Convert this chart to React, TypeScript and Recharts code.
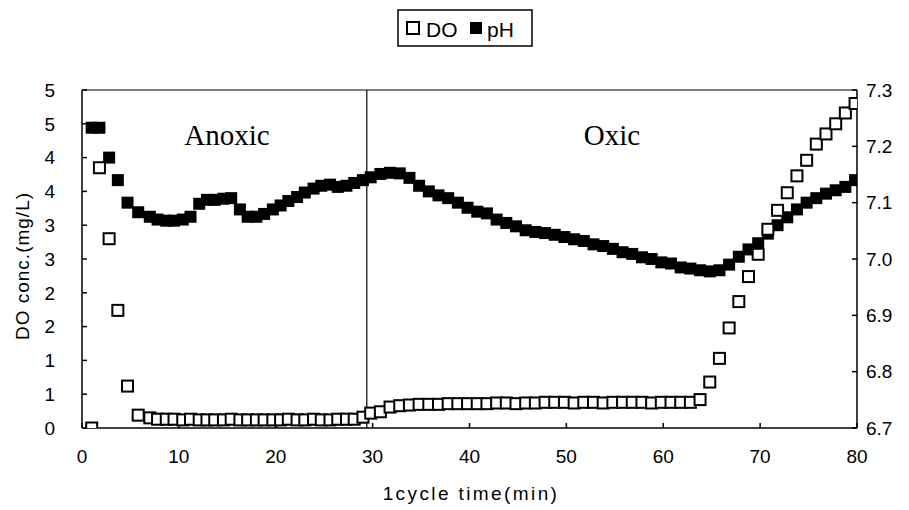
import React from 'react';
import { ComposedChart, Line, XAxis, YAxis, ReferenceLine } from 'recharts';

const timeMin = [
  1.0, 1.8, 2.8, 3.7, 4.7, 5.8, 7.0, 7.8, 8.7, 9.5, 10.4, 11.2, 12.1, 12.9, 13.7, 14.6, 15.4, 16.3, 17.1, 18.0,
  18.8, 19.7, 20.5, 21.3, 22.2, 23.0, 23.9, 24.7, 25.6, 26.4, 27.3, 28.1, 29.0, 29.8,
  30.8, 31.8, 32.8, 33.8, 34.8, 35.8, 36.8, 37.8, 38.8, 39.8, 40.8, 41.8, 42.8, 43.8, 44.8, 45.8, 46.8, 47.8,
  48.8, 49.8, 50.8, 51.8, 52.8, 53.8, 54.8, 55.8, 56.8, 57.8, 58.8, 59.8, 60.8, 61.8, 62.8, 63.8, 64.8, 65.8,
  66.8, 67.8, 68.8, 69.8, 70.8, 71.8, 72.8, 73.8, 74.8, 75.8, 76.8, 77.8, 78.8, 79.8,
];

const doConc = [
  0, 3.85, 2.8, 1.74, 0.62, 0.19,
  0.15, 0.13, 0.13, 0.13, 0.12, 0.13, 0.12, 0.12, 0.12, 0.12, 0.13, 0.12, 0.12, 0.12,
  0.12, 0.12, 0.12, 0.13, 0.12, 0.12, 0.13, 0.12, 0.12, 0.13, 0.13, 0.13, 0.16, 0.22,
  0.24, 0.31, 0.33, 0.34, 0.35, 0.35, 0.35, 0.36, 0.36, 0.36, 0.36, 0.36, 0.37, 0.37, 0.36, 0.37,
  0.37, 0.38, 0.38, 0.38, 0.37, 0.38, 0.38, 0.37, 0.38, 0.38, 0.38, 0.38, 0.37, 0.38, 0.38, 0.38,
  0.38, 0.42, 0.68, 1.03, 1.48, 1.87, 2.24, 2.57, 2.94, 3.22, 3.48, 3.73, 3.96, 4.2, 4.35, 4.5, 4.66, 4.8,
];

const phValue = [
  7.233, 7.233, 7.18, 7.14, 7.1, 7.083, 7.075, 7.07, 7.068, 7.068,
  7.07, 7.075, 7.098, 7.105, 7.105, 7.107, 7.108, 7.088, 7.075, 7.075,
  7.08, 7.088, 7.095, 7.103, 7.11, 7.118, 7.125, 7.13, 7.132, 7.128,
  7.13, 7.135, 7.14, 7.145,
  7.151, 7.153, 7.152, 7.144, 7.13, 7.12, 7.113, 7.108, 7.1, 7.091,
  7.084, 7.081, 7.07, 7.064, 7.058, 7.051, 7.048, 7.046, 7.043, 7.039,
  7.035, 7.032, 7.026, 7.023, 7.018, 7.012, 7.009, 7.003, 7.0, 6.994,
  6.992, 6.985, 6.983, 6.98, 6.978, 6.98, 6.99, 7.004, 7.017, 7.028,
  7.045, 7.06, 7.074, 7.088, 7.1, 7.108, 7.116, 7.122, 7.128, 7.14,
];

const xTicks = [0, 10, 20, 30, 40, 50, 60, 70, 80];
const doTicks = [0, 0.5, 1, 1.5, 2, 2.5, 3, 3.5, 4, 4.5, 5];
const phTicks = [6.7, 6.8, 6.9, 7.0, 7.1, 7.2, 7.3];
const phaseBoundary = 29.4;

const data = timeMin.map((t, i) => ({ t, DO: doConc[i], pH: phValue[i] }));

const FONT = '"Liberation Sans", Arial, sans-serif';
const tickStyle = { fontSize: 19, fill: '#000', fontFamily: FONT };
const lineStyle = { stroke: '#000', strokeWidth: 1.5 };

const HollowSquare = (props: any) => {
  const { cx, cy, index } = props;
  if (cx == null || cy == null) return <g key={`do-${index}`} />;
  return (
    <rect key={`do-${index}`} x={cx - 5.5} y={cy - 5.5} width={11} height={11} fill="#fff" stroke="#000" strokeWidth={2} />
  );
};

const FilledSquare = (props: any) => {
  const { cx, cy, index } = props;
  if (cx == null || cy == null) return <g key={`ph-${index}`} />;
  return <rect key={`ph-${index}`} x={cx - 6} y={cy - 6} width={12} height={12} fill="#000" stroke="none" />;
};

export default function App() {
  return (
    <div style={{ position: 'absolute', left: 0, top: 0, width: 909, height: 510, background: '#fff' }}>
      <ComposedChart
        width={909}
        height={510}
        data={data}
        margin={{ top: 90, right: 0, bottom: 0, left: 0 }}
      >
        <XAxis
          type="number"
          dataKey="t"
          domain={[0, 80]}
          ticks={xTicks}
          height={82}
          tick={tickStyle}
          tickSize={-5}
          tickMargin={27}
          axisLine={lineStyle}
          tickLine={lineStyle}
          allowDataOverflow
        />
        <YAxis
          yAxisId="left"
          orientation="left"
          domain={[0, 5]}
          ticks={doTicks}
          width={82}
          tick={tickStyle}
          tickSize={-5}
          tickMargin={32}
          tickFormatter={(v: number) => String(Math.round(v))}
          axisLine={lineStyle}
          tickLine={lineStyle}
          allowDataOverflow
        />
        <YAxis
          yAxisId="right"
          orientation="right"
          domain={[6.7, 7.3]}
          ticks={phTicks}
          width={52}
          tick={tickStyle}
          tickSize={-5}
          tickMargin={14}
          tickFormatter={(v: number) => v.toFixed(1)}
          axisLine={lineStyle}
          tickLine={lineStyle}
          allowDataOverflow
        />
        <ReferenceLine yAxisId="left" y={5} stroke="#000" strokeWidth={1.2} />
        <ReferenceLine yAxisId="left" x={phaseBoundary} stroke="#000" strokeWidth={1.2} />
        <Line
          yAxisId="right"
          dataKey="pH"
          stroke="none"
          dot={FilledSquare}
          activeDot={false}
          isAnimationActive={false}
        />
        <Line
          yAxisId="left"
          dataKey="DO"
          stroke="none"
          dot={HollowSquare}
          activeDot={false}
          isAnimationActive={false}
        />
      </ComposedChart>
      <svg
        width={909}
        height={510}
        style={{ position: 'absolute', left: 0, top: 0, pointerEvents: 'none' }}
      >
        <rect x={398} y={10} width={134} height={36} fill="none" stroke="#000" strokeWidth={1.5} />
        <rect x={407} y={22} width={12} height={12} fill="#fff" stroke="#000" strokeWidth={2} />
        <text x={426} y={37} fontSize={21} fontFamily={FONT} fill="#000">DO</text>
        <rect x={470} y={22} width={12} height={12} fill="#000" />
        <text x={487} y={37} fontSize={21} fontFamily={FONT} fill="#000">pH</text>
        <text x={227} y={145} fontSize={29} fontFamily='"Liberation Serif", "Times New Roman", serif' textAnchor="middle" fill="#000">Anoxic</text>
        <text x={612} y={145} fontSize={29} fontFamily='"Liberation Serif", "Times New Roman", serif' textAnchor="middle" fill="#000">Oxic</text>
        <text x={471} y={500} fontSize={19} fontFamily={FONT} letterSpacing={2.4} textAnchor="middle" fill="#000">1cycle time(min)</text>
        <text
          x={0}
          y={0}
          transform="translate(29, 266) rotate(-90)"
          fontSize={19}
          fontFamily={FONT}
          letterSpacing={1}
          textAnchor="middle"
          fill="#000"
        >
          DO conc.(mg/L)
        </text>
      </svg>
    </div>
  );
}
